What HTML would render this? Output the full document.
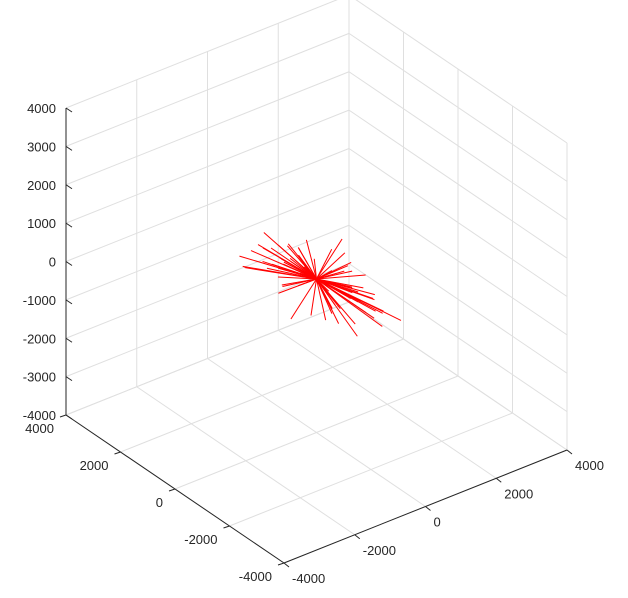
<!DOCTYPE html>
<html><head><meta charset="utf-8"><style>
html,body{margin:0;padding:0;background:#fff;width:628px;height:598px;overflow:hidden}
svg text{font-family:"Liberation Sans",sans-serif;font-size:13px;fill:#262626}
</style></head><body>
<svg id="chart" width="628" height="598" xmlns="http://www.w3.org/2000/svg">
<g id="grid"></g>
<g id="axes"></g>
<g id="series"></g>
</svg>
<script>
// data: endpoints of lines radiating from origin
const uVals=[2100,1750,1550,1250,1050,850,650,420,280,1800,1400,1000,560,210,-210,-490,-700,-980,-1260,-1540,-1820,-2100,-1680,-1120,-630,-350,1200,1600,700,-840,-1400,-1960,350,-140,70,900,-1050,1950,-1750,490,-420,1330,-1330,140,-70,770,-770,1680,-1610,0,
 900,-800,600,-500,1100,-1000,300,-300,1300,-1200,800,-700,500,-400,200,-200,1000,-900,400,-600,700,-1100,1500,-1400,100,-100,1200,-1300,600,-500];
const vVals=[-560,-140,-840,140,-280,-630,210,-420,-70,-700,280,-210,-490,1050,840,630,-280,420,700,210,490,770,-140,-420,140,1120,420,-420,70,-210,560,350,700,420,-560,630,840,-350,280,-700,350,-490,70,910,-210,-140,420,210,630,980,
 -300,300,-500,400,-200,200,600,-600,-400,400,100,-100,-700,700,500,-500,300,-300,-200,200,-400,400,-100,100,800,-800,-600,600,900,-900];
const zVals=[-210,420,-140,210,-350,630,-70,490,910,-280,140,-560,350,-140,-420,210,-630,-280,-490,-210,-140,-350,-630,-70,-910,-140,70,280,-210,-420,-70,-420,350,-770,560,-140,-210,-70,-280,-350,-700,350,-560,280,-840,140,-140,0,-350,70,
 200,-200,-300,300,100,-100,-500,500,-200,200,400,-400,300,-300,-600,600,-100,100,500,-500,200,-200,-300,300,700,-700,100,-100,-400,400];
const zTicks=[4000,3000,2000,1000,0,-1000,-2000,-3000,-4000];
const hTicks=[4000,2000,0,-2000,-4000];

const F=[284,563],L=[-218,-148],R=[283,-113],Z=[0,-307];
function P(u,v,z){const a=(u+4000)/8000,b=(v+4000)/8000,c=(z+4000)/8000;
 return [F[0]+a*L[0]+b*R[0]+c*Z[0],F[1]+a*L[1]+b*R[1]+c*Z[1]];}
const NS="http://www.w3.org/2000/svg";
function line(g,p,q,col,w,name){const e=document.createElementNS(NS,"line");
 e.setAttribute("x1",p[0]);e.setAttribute("y1",p[1]);e.setAttribute("x2",q[0]);e.setAttribute("y2",q[1]);
 e.setAttribute("stroke",col);e.setAttribute("stroke-width",w);
 
 
 g.appendChild(e);return e;}
function text(g,x,y,s,anchor,name){const t=document.createElementNS(NS,"text");
 t.setAttribute("x",x);t.setAttribute("y",y);t.setAttribute("text-anchor",anchor);t.textContent=s;
 
 
 g.appendChild(t);}
const grid=document.getElementById("grid"),axes=document.getElementById("axes"),series=document.getElementById("series");
const gc="#dfdfdf";
zTicks.forEach(z=>{line(grid,P(4000,-4000,z),P(4000,4000,z),gc,1,"z-gridline");line(grid,P(4000,4000,z),P(-4000,4000,z),gc,1,"z-gridline");});
hTicks.forEach(t=>{
 line(grid,P(4000,t,-4000),P(4000,t,4000),gc,1,"v-gridline-wall");
 line(grid,P(t,4000,-4000),P(t,4000,4000),gc,1,"u-gridline-wall");
 line(grid,P(t,-4000,-4000),P(t,4000,-4000),gc,1,"u-gridline-floor");
 line(grid,P(-4000,t,-4000),P(4000,t,-4000),gc,1,"v-gridline-floor");
});
line(grid,P(4000,4000,-4000),P(4000,4000,4000),gc,1,"back-edge");
const ac="#262626";
line(axes,P(4000,-4000,-4000),P(4000,-4000,4000),ac,1,"z-axis");
line(axes,P(4000,-4000,-4000),P(-4000,-4000,-4000),ac,1,"u-axis");
line(axes,P(-4000,-4000,-4000),P(-4000,4000,-4000),ac,1,"v-axis");
zTicks.forEach(z=>{const p=P(4000,-4000,z);line(axes,p,[p[0]+6,p[1]+4],ac,1,"z-tick");
 text(axes,p[0]-10,p[1]+5,String(z),"end","z-tick-label");});
hTicks.forEach(t=>{const p=P(t,-4000,-4000);line(axes,p,[p[0]-6,p[1]+2],ac,1,"u-tick");
 text(axes,p[0]-12,p[1]+18,String(t),"end","u-tick-label");
 const q=P(-4000,t,-4000);line(axes,q,[q[0]+5,q[1]+4],ac,1,"v-tick");
 text(axes,q[0]+8,q[1]+20,String(t),"start","v-tick-label");});
const O=P(0,0,0);
uVals.forEach((u,i)=>{line(series,O,P(u,vVals[i],zVals[i]),"#ff0000",1,"vector-line");});
</script>
</body></html>
